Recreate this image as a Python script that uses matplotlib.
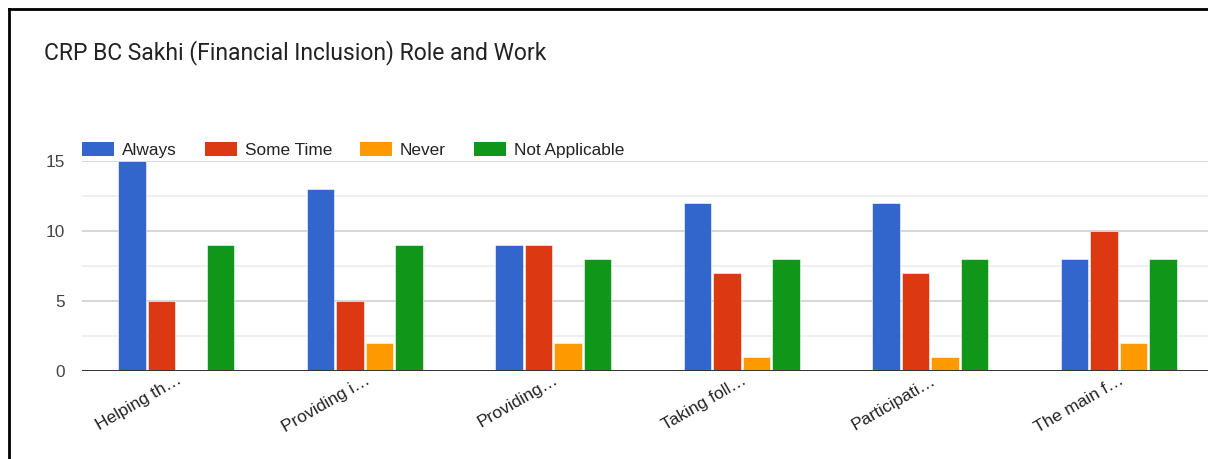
import matplotlib
matplotlib.use("Agg")
import matplotlib.pyplot as plt
from matplotlib.patches import Patch
from matplotlib.lines import Line2D
import numpy as np

categories = ["Helping th…", "Providing i…", "Providing…", "Taking foll…", "Participati…", "The main f…"]
series_names = ["Always", "Some Time", "Never", "Not Applicable"]
always = [15, 13, 9, 12, 12, 8]
some_time = [5, 5, 9, 7, 7, 10]
never = [0, 2, 2, 1, 1, 2]
not_applicable = [9, 9, 8, 8, 8, 8]
yticks = [0, 5, 10, 15]
title = "CRP BC Sakhi (Financial Inclusion) Role and Work"

colors = ["#3366cc", "#dc3912", "#ff9900", "#109618"]
series = [always, some_time, never, not_applicable]

W, H = 1208, 459
fig = plt.figure(figsize=(W / 100, H / 100), dpi=100)
fig.patch.set_facecolor("white")

left_px, top_px, bot_px = 82, 161, 371
group_px = 188.5
ax = fig.add_axes([left_px / W, 1 - bot_px / H, (W - left_px) / W, (bot_px - top_px) / H])
ax.set_facecolor("white")

x = np.arange(len(categories))
slot = 0.156
bw = 0.146
for j, (vals, c, name) in enumerate(zip(series, colors, series_names)):
    ax.bar(x + (j - 1.5) * slot, vals, width=bw, color=c, edgecolor="white", linewidth=0.4, zorder=3, label=name)

ax.set_xlim(-0.5, -0.5 + (W - left_px) / group_px)
ax.set_ylim(0, 15)
ax.set_yticks(yticks)
ax.set_yticks([2.5, 7.5, 12.5], minor=True)
ax.grid(axis="y", which="major", color="#cccccc", linewidth=1.1, zorder=0)
ax.grid(axis="y", which="minor", color="#ebebeb", linewidth=1.1, zorder=0)
ax.axhline(0, color="#333333", linewidth=1.4, zorder=4)
for s in ax.spines.values():
    s.set_visible(False)

fs = 12.4
ax.tick_params(axis="y", which="both", length=0, pad=12, labelsize=fs, labelcolor="#444444")
for lbl in ax.get_yticklabels():
    lbl.set_fontfamily("Liberation Sans")
ax.set_xticks(x)
ax.set_xticklabels(categories, rotation=30, ha="right", rotation_mode="anchor",
                   fontsize=12.6, color="#222222", fontfamily="Liberation Sans")
ax.tick_params(axis="x", length=0, pad=1)

handles = [Patch(facecolor=c, edgecolor="none") for c in colors]
leg = ax.legend(handles, series_names, loc="center left",
                bbox_to_anchor=(82 / W, 1 - 150 / H), bbox_transform=fig.transFigure,
                ncol=4, frameon=False, borderpad=0, borderaxespad=0,
                handlelength=1.86, handleheight=0.82, handletextpad=0.46, columnspacing=1.62,
                prop={"family": "Liberation Sans", "size": fs})
for t in leg.get_texts():
    t.set_color("#222222")

fig.text(44 / W, 1 - 53 / H, title, fontsize=16.5, fontfamily="Roboto", color="#222222",
         ha="left", va="center")

# screenshot border (top and left)
fig.add_artist(Line2D([9 / W, 1.0], [1 - 9 / H, 1 - 9 / H], color="black", linewidth=2.0, transform=fig.transFigure))
fig.add_artist(Line2D([9 / W, 9 / W], [1 - 9 / H, 0], color="black", linewidth=2.0, transform=fig.transFigure))

fig.savefig("out.png", dpi=100, facecolor="white")
